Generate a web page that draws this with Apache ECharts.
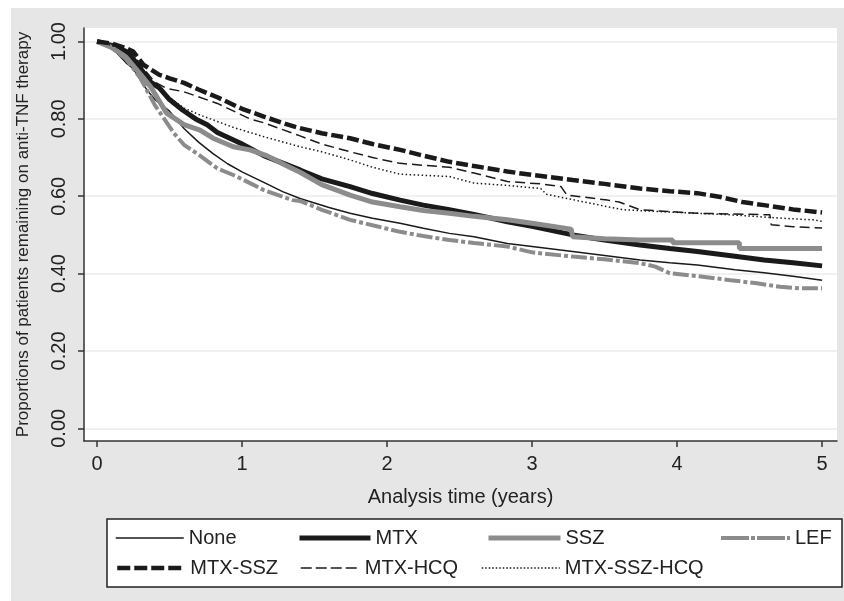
<!DOCTYPE html>
<html>
<head>
<meta charset="utf-8">
<script src="https://cdn.jsdelivr.net/npm/echarts@6/dist/echarts.min.js"></script>
<style>html,body{margin:0;padding:0;background:#fff}#c{width:844px;height:601px}</style>
</head>
<body>
<div id="c"></div>
<script>
const xTicks = [0, 1, 2, 3, 4, 5];
const yTicks = [0, 0.2, 0.4, 0.6, 0.8, 1.0];
const seriesNames = ['None', 'MTX', 'SSZ', 'LEF', 'MTX-SSZ', 'MTX-HCQ', 'MTX-SSZ-HCQ'];

const dataNone = [[0,1],[0.05,0.995],[0.1,0.985],[0.15,0.965],[0.2,0.945],[0.25,0.93],[0.3,0.9],[0.35,0.872],[0.4,0.85],[0.5,0.82],[0.6,0.775],[0.7,0.74],[0.8,0.71],[0.9,0.684],[1.0,0.663],[1.15,0.636],[1.28,0.612],[1.4,0.594],[1.6,0.571],[1.745,0.556],[1.9,0.543],[2.09,0.53],[2.25,0.517],[2.43,0.504],[2.6,0.495],[2.83,0.478],[3.0,0.47],[3.28,0.457],[3.5,0.447],[3.745,0.435],[3.95,0.428],[4.14,0.422],[4.4,0.41],[4.6,0.402],[4.8,0.393],[5.0,0.383]];
const dataMTX = [[0,1],[0.1,0.99],[0.2,0.975],[0.25,0.955],[0.3,0.93],[0.37,0.895],[0.43,0.88],[0.5,0.85],[0.59,0.823],[0.68,0.8],[0.76,0.785],[0.83,0.765],[0.99,0.737],[1.15,0.705],[1.25,0.69],[1.4,0.668],[1.55,0.645],[1.745,0.625],[1.9,0.607],[2.09,0.59],[2.25,0.577],[2.43,0.565],[2.6,0.553],[2.83,0.534],[3.0,0.522],[3.28,0.5],[3.5,0.487],[3.745,0.474],[3.95,0.465],[4.14,0.457],[4.4,0.445],[4.6,0.435],[4.8,0.428],[5.0,0.42]];
const dataSSZ = [[0,1],[0.1,0.985],[0.2,0.96],[0.3,0.915],[0.37,0.883],[0.48,0.815],[0.6,0.785],[0.71,0.771],[0.8,0.75],[0.94,0.728],[1.055,0.72],[1.17,0.705],[1.3,0.68],[1.4,0.662],[1.55,0.63],[1.745,0.603],[1.9,0.585],[2.09,0.573],[2.25,0.563],[2.43,0.556],[2.6,0.548],[2.83,0.539],[3.0,0.53],[3.27,0.515],[3.28,0.495],[3.5,0.49],[3.745,0.487],[3.97,0.487],[3.97,0.48],[4.43,0.48],[4.43,0.465],[5.0,0.465]];
const dataLEF = [[0,1],[0.1,0.985],[0.2,0.955],[0.3,0.905],[0.4,0.835],[0.53,0.763],[0.6,0.733],[0.71,0.705],[0.83,0.672],[0.94,0.655],[1.055,0.634],[1.15,0.616],[1.35,0.59],[1.4,0.588],[1.55,0.565],[1.745,0.539],[1.9,0.525],[2.09,0.508],[2.25,0.497],[2.43,0.487],[2.6,0.479],[2.83,0.47],[3.0,0.455],[3.28,0.444],[3.5,0.437],[3.745,0.427],[3.85,0.418],[3.95,0.401],[4.15,0.393],[4.37,0.383],[4.55,0.375],[4.71,0.366],[4.85,0.362],[5.0,0.362]];
const dataMTXSSZ = [[0,1],[0.1,0.995],[0.2,0.983],[0.25,0.974],[0.32,0.94],[0.43,0.914],[0.5,0.905],[0.6,0.893],[0.7,0.876],[0.83,0.856],[1.0,0.826],[1.15,0.806],[1.3,0.787],[1.4,0.776],[1.55,0.763],[1.745,0.75],[1.9,0.735],[2.09,0.72],[2.25,0.705],[2.43,0.689],[2.6,0.678],[2.83,0.664],[3.0,0.655],[3.28,0.642],[3.5,0.632],[3.745,0.62],[3.95,0.613],[4.14,0.608],[4.3,0.598],[4.45,0.585],[4.6,0.577],[4.8,0.566],[5.0,0.558]];
const dataMTXHCQ = [[0,1],[0.1,0.993],[0.2,0.978],[0.25,0.965],[0.32,0.93],[0.4,0.895],[0.48,0.879],[0.6,0.87],[0.83,0.84],[1.055,0.8],[1.15,0.79],[1.4,0.756],[1.55,0.735],[1.745,0.715],[1.9,0.7],[2.09,0.685],[2.25,0.68],[2.43,0.675],[2.6,0.66],[2.83,0.638],[3.06,0.632],[3.2,0.625],[3.24,0.603],[3.52,0.59],[3.6,0.585],[3.745,0.565],[4.14,0.556],[4.64,0.552],[4.65,0.526],[4.8,0.521],[5.0,0.518]];
const dataMTXSSZHCQ = [[0,1],[0.1,0.99],[0.2,0.975],[0.3,0.93],[0.4,0.89],[0.5,0.855],[0.6,0.828],[0.71,0.81],[0.94,0.778],[1.15,0.754],[1.4,0.728],[1.55,0.715],[1.745,0.694],[1.9,0.675],[2.09,0.657],[2.43,0.651],[2.6,0.634],[2.83,0.628],[3.06,0.62],[3.1,0.605],[3.4,0.582],[3.63,0.565],[3.9,0.56],[4.37,0.552],[4.73,0.543],[4.94,0.539],[5.0,0.535]];

const allData = [dataNone, dataMTX, dataSSZ, dataLEF, dataMTXSSZ, dataMTXHCQ, dataMTXSSZHCQ];
const BLACK = '#1a1a1a', GRAY = '#8c8c8c';
const styles = [
  {color: BLACK, width: 1.5, type: 'solid'},
  {color: BLACK, width: 5, type: 'solid'},
  {color: GRAY, width: 5, type: 'solid'},
  {color: GRAY, width: 4, type: [16, 3, 4, 3]},
  {color: BLACK, width: 4.5, type: [12, 4]},
  {color: BLACK, width: 1.5, type: [10, 5]},
  {color: BLACK, width: 1.5, type: [1.5, 2.5]}
];
const legendStyles = [
  {color: BLACK, width: 1.5, type: 'solid'},
  {color: BLACK, width: 5, type: 'solid'},
  {color: GRAY, width: 5, type: 'solid'},
  {color: GRAY, width: 4, type: [28, 2, 4, 2]},
  {color: BLACK, width: 4.5, type: [13, 4]},
  {color: BLACK, width: 1.5, type: [11, 4]},
  {color: BLACK, width: 1.5, type: [1.5, 2]}
];
const legendPos = [
  {left: 115, top: 528, w: 68},
  {left: 297, top: 528, w: 71},
  {left: 486, top: 528, w: 72},
  {left: 719, top: 528, w: 69},
  {left: 115, top: 558, w: 68},
  {left: 300, top: 558, w: 59},
  {left: 481, top: 558, w: 78}
];

const FONT = '"Liberation Sans", Arial, sans-serif';
const chart = echarts.init(document.getElementById('c'), null, {renderer: 'canvas'});
chart.setOption({
  animation: false,
  backgroundColor: '#ffffff',
  textStyle: {fontFamily: FONT},
  graphic: [
    {type: 'rect', z: -10, shape: {x: 11, y: 8, width: 833, height: 593}, style: {fill: '#e6e6e6'}},
    {type: 'rect', z: 1, shape: {x: 107, y: 519, width: 735, height: 68}, style: {fill: '#ffffff', stroke: '#222', lineWidth: 1.5}}
  ],
  grid: {left: 84, right: 7, top: 28, bottom: 160, show: true, backgroundColor: '#ffffff', borderWidth: 0},
  xAxis: {
    type: 'value', min: -0.0897, max: 5.103,
    name: 'Analysis time (years)', nameLocation: 'middle', nameGap: 46,
    nameTextStyle: {fontSize: 20, color: '#222', fontFamily: FONT},
    axisLine: {show: true, onZero: false, lineStyle: {color: '#333', width: 1.5}},
    axisTick: {show: true, length: 6, customValues: xTicks, lineStyle: {color: '#333', width: 1.5}},
    axisLabel: {customValues: xTicks, fontSize: 20, color: '#222', margin: 13, fontFamily: FONT},
    splitLine: {show: false}
  },
  yAxis: {
    type: 'value', min: -0.0328, max: 1.035,
    name: 'Proportions of patients remaining on anti-TNF therapy', nameLocation: 'middle', nameGap: 52,
    nameTextStyle: {fontSize: 17, color: '#222', fontFamily: FONT},
    axisLine: {show: true, onZero: false, lineStyle: {color: '#333', width: 1.5}},
    axisTick: {show: true, length: 6, customValues: yTicks, lineStyle: {color: '#333', width: 1.5}},
    axisLabel: {customValues: yTicks, rotate: 90, fontSize: 20, color: '#222', margin: 15, fontFamily: FONT,
      formatter: v => v.toFixed(2)},
    splitLine: {show: true, customValues: yTicks, lineStyle: {color: '#ebebeb', width: 1.5}}
  },
  legend: seriesNames.map((n, i) => ({
    data: [n], left: legendPos[i].left, top: legendPos[i].top, itemWidth: legendPos[i].w, itemHeight: 14,
    padding: 0, z: 5, selectedMode: false,
    itemStyle: {opacity: 0},
    lineStyle: {color: legendStyles[i].color, width: legendStyles[i].width, type: legendStyles[i].type, opacity: 1},
    textStyle: {fontSize: 20, color: '#222', fontFamily: FONT}
  })),
  series: seriesNames.map((n, i) => ({
    name: n, type: 'line', data: allData[i], showSymbol: false, symbol: 'none',
    lineStyle: styles[i], itemStyle: {color: styles[i].color}, z: 2 + i, silent: true
  }))
});
</script>
</body>
</html>
